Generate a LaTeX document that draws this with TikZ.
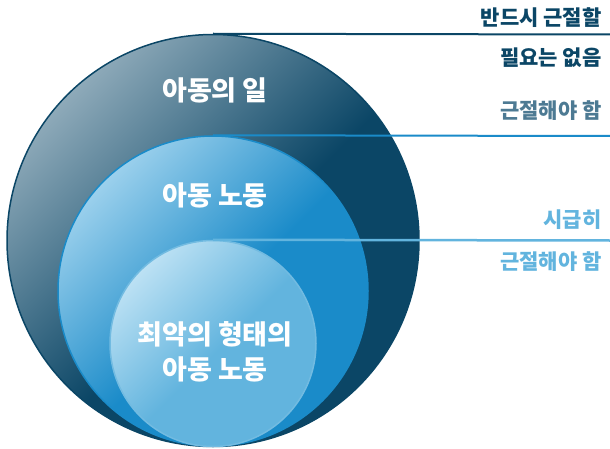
\documentclass[tikz,border=0pt]{standalone}
\usepackage{fontspec}
\setmainfont{Noto Sans CJK KR}
\usepackage{tikz}

\definecolor{navy}{HTML}{0B4666}
\definecolor{worklight}{HTML}{B8CAD4}
\definecolor{midblue}{HTML}{1A8BC9}
\definecolor{midlight}{HTML}{C6E7F8}
\definecolor{skyblue}{HTML}{62B4DE}
\definecolor{skylight}{HTML}{DAF0FB}
\definecolor{greyblue}{HTML}{4D7A93}

\pgfdeclareverticalshading{workshade}{100bp}{color(0bp)=(navy); color(47bp)=(navy); color(84bp)=(worklight); color(100bp)=(worklight)}
\pgfdeclareverticalshading{labourshade}{100bp}{color(0bp)=(midblue); color(48bp)=(midblue); color(84bp)=(midlight); color(100bp)=(midlight)}
\pgfdeclareverticalshading{worstshade}{100bp}{color(0bp)=(skyblue); color(48bp)=(skyblue); color(84bp)=(skylight); color(100bp)=(skylight)}

\begin{document}
\begin{tikzpicture}[
		x=1pt, y=1pt,
		ring/.style={circle, inner sep=0pt, line width=1.5pt, shade, shading angle=45},
		workring/.style={ring, draw=navy, shading=workshade, minimum size=412pt},
		labourring/.style={ring, draw=midblue, shading=labourshade, minimum size=310pt},
		worstring/.style={ring, draw=skyblue!90!white, shading=worstshade, minimum size=206pt},
		inlabel/.style={text=white, font=\fontsize{27}{35}\selectfont\bfseries, align=center},
		sidelabel/.style={anchor=east, font=\fontsize{21}{24}\selectfont\bfseries},
		edge/.style={line width=2pt}
	]
		\useasboundingbox (0,0) rectangle (610,448);
		
		% Circles
		\node[workring] (work) at (213,207.5) {};
		\node[labourring] (labour) at (213,157) {};
		\node[worstring] (worst) at (213,104.5) {};
		
		% Circle labels
		\node[inlabel] (worklabel) at (215,358) {아동의 일};
		\node[inlabel] (labourlabel) at (215,253) {아동 노동};
		\node[inlabel] (worstlabel) at (215,96) {최악의 형태의\\아동 노동};
		
		% Lines
		\coordinate (workend) at (610,413.5);
		\coordinate (labourend) at (610,312);
		\coordinate (worstend) at (610,207.5);
		\draw[edge, navy] (work.north) -- (workend);
		\draw[edge, midblue] (labour.north) -- (labourend);
		\draw[edge, skyblue, line width=2.5pt] (worst.north) -- (worstend);
		
		% Side labels
		\node[sidelabel, text=navy] (work1) at (605,430) {반드시 근절할};
		\node[sidelabel, text=navy] (work2) at (605,390) {필요는 없음};
		\node[sidelabel, text=greyblue] (labour1) at (605,337) {근절해야 함};
		\node[sidelabel, text=skyblue] (worst1) at (605,228) {시급히};
		\node[sidelabel, text=skyblue] (worst2) at (605,186) {근절해야 함};
	\end{tikzpicture}
\end{document}
